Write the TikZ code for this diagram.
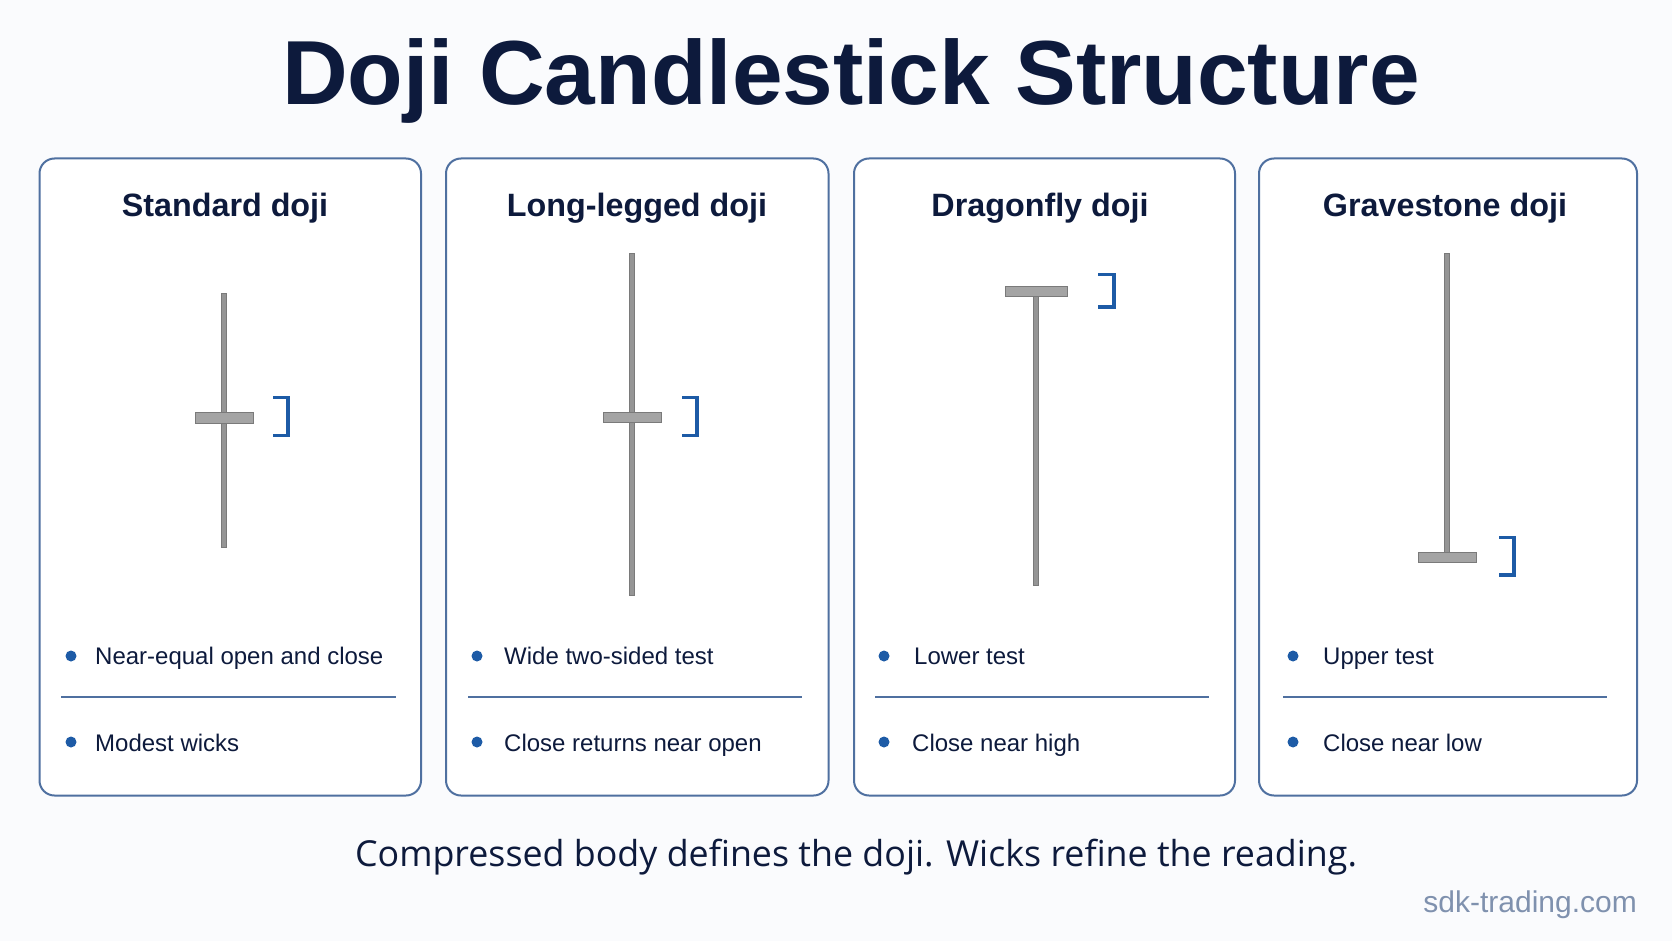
\documentclass[tikz,border=0pt]{standalone}
\usepackage{fontspec}
\setmainfont{Liberation Sans}
\newfontfamily\footfont{Open Sans}
\begin{document}
\begin{tikzpicture}[x=1pt,y=-1pt,
  panel/.style={draw=panelc, line width=2pt, rounded corners=15pt, fill=white, inner sep=0pt},
  ptitle/.style={anchor=base, font=\fontsize{32.3}{36}\selectfont\bfseries, text=navy, inner sep=0pt},
  btext/.style={anchor=base west, font=\fontsize{24}{28}\selectfont, text=navy, inner sep=0pt},
  bdot/.style={circle, fill=dotc, minimum size=11pt, inner sep=0pt},
  divider/.style={draw=panelc, line width=1.8pt},
  wick/.style={fill=wickc, draw=wickd, line width=0.8pt},
  cbody/.style={fill=bodyc, draw=wickd, line width=1pt},
  bracketline/.style={draw=dotc, line width=3.5pt, line cap=butt, line join=miter}
]
\definecolor{navy}{HTML}{0D1A3C}
\definecolor{panelc}{HTML}{4F70A0}
\definecolor{dotc}{HTML}{1D5BA6}
\definecolor{wickc}{HTML}{959595}
\definecolor{wickd}{HTML}{7A7A7A}
\definecolor{bodyc}{HTML}{A4A4A4}
\definecolor{bgc}{HTML}{FAFBFD}
\definecolor{wm}{HTML}{7F91AE}

\fill[bgc] (0,0) rectangle (1672,941);
\useasboundingbox (0,0) rectangle (1672,941);

% title
\node[anchor=base, inner sep=0pt, text=navy, font=\fontsize{91}{100}\selectfont\bfseries] (title) at (851,105) {Doji Candlestick Structure};

% panels
\node[panel, minimum width=381.5pt, minimum height=637pt] (p1) at (230.25,477) {};
\node[panel, minimum width=382.5pt, minimum height=637pt] (p2) at (637.25,477) {};
\node[panel, minimum width=381pt, minimum height=637pt] (p3) at (1044.5,477) {};
\node[panel, minimum width=378pt, minimum height=637pt] (p4) at (1448,477) {};

% panel titles
\node[ptitle] (t1) at (225,217) {Standard doji};
\node[ptitle] (t2) at (637,217) {Long-legged doji};
\node[ptitle] (t3) at (1040,217) {Dragonfly doji};
\node[ptitle] (t4) at (1445,217) {Gravestone doji};

% candles
% panel 1
\filldraw[wick] (221.5,293) rectangle (226.5,547);
\filldraw[cbody] (195,412) rectangle (253,423);
\draw[bracketline] (273,397.5) -- (288,397.5) -- (288,435.5) -- (273,435.5);
% panel 2
\filldraw[wick] (629.5,253) rectangle (634.5,595);
\filldraw[cbody] (603.5,412.5) rectangle (661,422.5);
\draw[bracketline] (682,397.5) -- (697,397.5) -- (697,435.5) -- (682,435.5);
% panel 3
\filldraw[wick] (1033.5,291) rectangle (1038.5,585);
\filldraw[cbody] (1005,286.5) rectangle (1067,296.5);
\draw[bracketline] (1098,274.5) -- (1114,274.5) -- (1114,307) -- (1098,307);
% panel 4
\filldraw[wick] (1444.5,253) rectangle (1449.5,557);
\filldraw[cbody] (1418,552) rectangle (1476,562.5);
\draw[bracketline] (1499,537.5) -- (1514,537.5) -- (1514,575) -- (1499,575);

% bullets panel 1
\node[bdot] (d11) at (71,656) {};
\node[btext] (b11) at (95,664) {Near-equal open and close};
\draw[divider] (61,697) -- (396,697);
\node[bdot] (d12) at (71,742) {};
\node[btext] (b12) at (95,751) {Modest wicks};
% panel 2
\node[bdot] (d21) at (477,656) {};
\node[btext] (b21) at (504,664) {Wide two-sided test};
\draw[divider] (468,697) -- (802,697);
\node[bdot] (d22) at (477,742) {};
\node[btext] (b22) at (504,751) {Close returns near open};
% panel 3
\node[bdot] (d31) at (884,656) {};
\node[btext] (b31) at (914,664) {Lower test};
\draw[divider] (875,697) -- (1209,697);
\node[bdot] (d32) at (884,742) {};
\node[btext] (b32) at (912,751) {Close near high};
% panel 4
\node[bdot] (d41) at (1293,656) {};
\node[btext] (b41) at (1323,664) {Upper test};
\draw[divider] (1283,697) -- (1607,697);
\node[bdot] (d42) at (1293,742) {};
\node[btext] (b42) at (1323,751) {Close near low};

% footer
\node[anchor=base, inner sep=0pt, text=navy, font=\footfont\fontsize{35.8}{40}\selectfont] (foot) at (856,866) {Compressed body defines the doji. Wicks refine the reading.};
\node[anchor=base east, inner sep=0pt, text=wm, font=\fontsize{30}{36}\selectfont] (wmk) at (1637,912) {sdk-trading.com};
\end{tikzpicture}
\end{document}
